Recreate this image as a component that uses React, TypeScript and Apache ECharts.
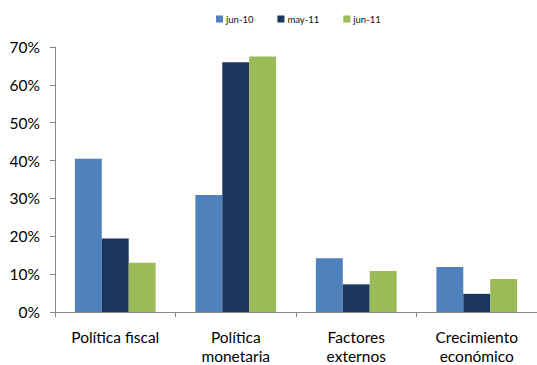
import React, { useEffect, useRef } from "react";
import * as echarts from "echarts";

const categories = ["Política fiscal", "Política\nmonetaria", "Factores\nexternos", "Crecimiento\neconómico"];
const seriesNames = ["jun-10", "may-11", "jun-11"];
const jun10 = [40.5, 30.9, 14.2, 11.9];
const may11 = [19.4, 66.0, 7.3, 4.8];
const jun11 = [13.0, 67.5, 10.8, 8.7];
const colors = ["#4F81BD", "#1B375D", "#9BBB59"];

export default function App() {
  const ref = useRef<HTMLDivElement>(null);
  useEffect(() => {
    document.body.style.margin = "0";
    const chart = echarts.init(ref.current!, null, { renderer: "svg" });
    const data = [jun10, may11, jun11];
    chart.setOption({
      animation: false,
      textStyle: { fontFamily: "Lato" },
      legend: {
        top: 9,
        left: 211,
        icon: "rect",
        itemWidth: 7,
        itemHeight: 7,
        itemGap: 24,
        textStyle: { fontSize: 9.5, color: "#111", padding: [0, 0, 0, -2] },
        data: seriesNames,
      },
      grid: { left: 55, top: 47, width: 494, height: 270, containLabel: false },
      xAxis: {
        type: "category",
        data: categories,
        axisLine: { lineStyle: { color: "#888" } },
        axisTick: { show: true, length: 5, lineStyle: { color: "#888" } },
        axisLabel: { color: "#000", fontSize: 15.5, lineHeight: 19, margin: 15, interval: 0 },
      },
      yAxis: {
        type: "value",
        min: 0,
        max: 70,
        interval: 10,
        axisLine: { show: true, lineStyle: { color: "#888" } },
        axisTick: { show: true, length: 5, lineStyle: { color: "#888" } },
        splitLine: { show: false },
        axisLabel: { color: "#000", fontSize: 15.5, margin: 15, formatter: "{value}%" },
      },
      series: seriesNames.map((n, i) => ({
        name: n,
        type: "bar",
        data: data[i],
        barGap: "0%",
        barCategoryGap: "33%",
        itemStyle: { color: colors[i] },
      })),
    });
    return () => chart.dispose();
  }, []);
  return <div ref={ref} style={{ width: 537, height: 365 }} />;
}
